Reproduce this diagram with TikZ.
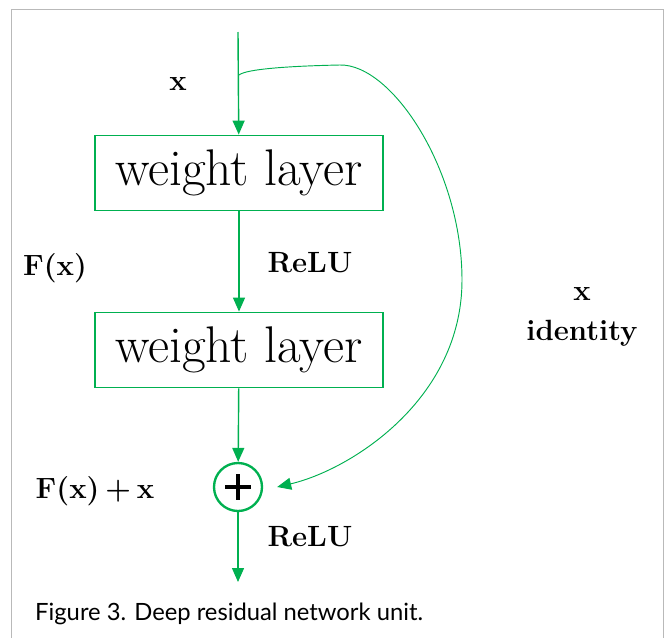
\documentclass[tikz,border=0pt]{standalone}
\usepackage{fontspec}
\newfontfamily\capfont{Lato}
\usetikzlibrary{arrows.meta,positioning}
\definecolor{resgreen}{RGB}{0,176,80}
\tikzset{
  layerbox/.style={draw=resgreen,line width=1.6pt,minimum width=8.64cm,minimum height=2.25cm,inner sep=0pt,font=\fontsize{44}{50}\selectfont},
  flow/.style={draw=resgreen,line width=1.2pt,-{Triangle[length=0.42cm,width=0.36cm]}},
  lbl/.style={font=\fontsize{25}{30}\selectfont\bfseries,inner sep=0pt}
}
\begin{document}
\begin{tikzpicture}[x=0.03cm,y=-0.03cm]
    \useasboundingbox (0,0) rectangle (665,637);
    \draw[gray!55,line width=0.8pt] (11,640) -- (11,9) -- (663,9) -- (663,640);
    % main path
    \coordinate (top) at (238,32);
    \coordinate (split) at (239,75);
    \node[layerbox] (wl1) at (239,173) {weight layer};
    \node[layerbox] (wl2) at (239,350) {weight layer};
    \node[circle,draw=resgreen,line width=2pt,minimum size=1.44cm,inner sep=0pt] (sum) at (238,487) {};
    \draw[line width=3.2pt] (sum.center) ++(-13,0) -- ++(26,0);
    \draw[line width=3.2pt] (sum.center) ++(0,-13) -- ++(0,26);
    \coordinate (out) at (238,582);
    \coordinate[right=0.42cm of sum] (skipend);
    \draw[flow] (top) -- (wl1);
    \draw[flow] (wl1) -- (wl2);
    \draw[flow] (wl2) -- (sum);
    \draw[flow] (sum) -- (out);
    % identity shortcut
    \draw[flow,line width=0.8pt] (split) .. controls (246,69) and (290,66) .. (340,65)
        .. controls (392,64) and (462,170) .. (462,280)
        .. controls (462,400) and (350,470) .. (skipend);
    % labels
    \node[lbl] (lx) at (178,84) {x};
    \node[lbl] (lfx) at (55,268) {F(x)};
    \node[lbl] (lrelu1) at (310,263) {ReLU};
    \node[lbl] (lidx) at (582,294) {x};
    \node[lbl] (lid) at (582,333) {identity};
    \node[lbl] (lsum) at (95,491) {F(x)\hspace{0.2em}+\hspace{0.2em}x};
    \node[lbl] (lrelu2) at (310,537) {ReLU};
    \node[anchor=west,inner sep=0pt,font=\capfont\fontsize{20.3}{24}\selectfont] (cap) at (35,614) {Figure 3. Deep residual network unit.};
\end{tikzpicture}
\end{document}
